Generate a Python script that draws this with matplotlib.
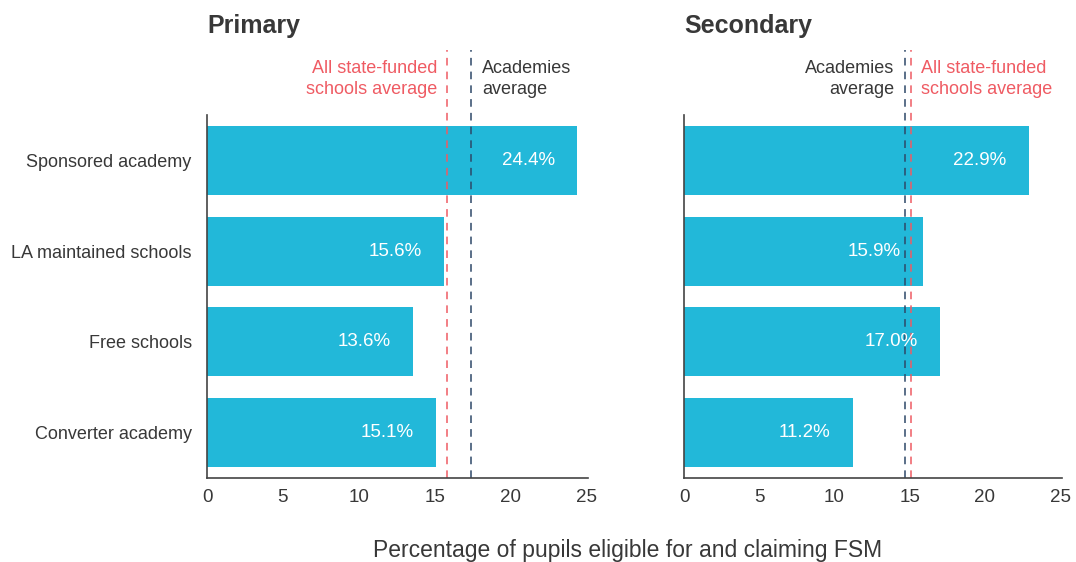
import matplotlib.pyplot as plt

plt.rcParams['font.family'] = ['Liberation Sans', 'DejaVu Sans']

categories = ['Sponsored academy', 'LA maintained schools', 'Free schools', 'Converter academy']
primary = [24.4, 15.6, 13.6, 15.1]
secondary = [22.9, 15.9, 17.0, 11.2]
primary_avg_all = 15.8
primary_avg_acad = 17.4
secondary_avg_all = 15.1
secondary_avg_acad = 14.7
xticks = [0, 5, 10, 15, 20, 25]

barColor = '#22B8D9'
redColor = '#EF5B63'
navyColor = '#2D4868'
textColor = '#383838'

fig = plt.figure(figsize=(10.76, 5.62), dpi=100)
axL = fig.add_axes([0.1924, 0.1495, 0.354, 0.6455])
axR = fig.add_axes([0.6357, 0.1495, 0.351, 0.6455])


def drawPanel(ax, vals, title, showLabels):
    pos = list(range(len(vals)))
    ax.barh(pos, vals, height=0.76, color=barColor)
    for p, v in zip(pos, vals):
        ax.annotate(f'{v:.1f}%', (v, p), xytext=(-16, 0), textcoords='offset points',
                    ha='right', va='center', color='white', fontsize=13.5)
    ax.set_ylim(3.5, -0.5)
    ax.set_xlim(0, 25.1)
    ax.set_xticks(xticks)
    ax.set_yticks(pos)
    if showLabels:
        ax.set_yticklabels(categories, fontsize=13, color=textColor)
    else:
        ax.set_yticklabels([])
    ax.tick_params(axis='both', length=0)
    ax.tick_params(axis='x', labelsize=13.5, labelcolor=textColor, pad=8)
    ax.tick_params(axis='y', pad=11)
    for s in ['top', 'right']:
        ax.spines[s].set_visible(False)
    for s in ['left', 'bottom']:
        ax.spines[s].set_color('#444444')
        ax.spines[s].set_linewidth(1.2)
    ax.text(0, 1.245, title, transform=ax.transAxes, fontsize=18, fontweight='bold',
            color=textColor, va='center', ha='left')


drawPanel(axL, primary, 'Primary', True)
drawPanel(axR, secondary, 'Secondary', False)

for ax, allAvg, acadAvg in [(axL, primary_avg_all, primary_avg_acad),
                            (axR, secondary_avg_all, secondary_avg_acad)]:
    ax.axvline(allAvg, ymin=0, ymax=1.18, color=redColor, ls=(0, (5, 4)), lw=1.1, clip_on=False)
    ax.axvline(acadAvg, ymin=0, ymax=1.18, color=navyColor, ls=(0, (5, 4)), lw=1.1, clip_on=False)

trL = axL.get_xaxis_transform()
axL.annotate('All state-funded\nschools average', (primary_avg_all, 1.1), xycoords=trL,
             xytext=(-7, 0), textcoords='offset points', ha='right', va='center',
             color=redColor, fontsize=13, linespacing=1.3)
axL.annotate('Academies\naverage', (primary_avg_acad, 1.1), xycoords=trL,
             xytext=(8, 0), textcoords='offset points', ha='left', va='center',
             color=textColor, fontsize=13, linespacing=1.3)

trR = axR.get_xaxis_transform()
axR.annotate('Academies\naverage', (secondary_avg_acad, 1.1), xycoords=trR,
             xytext=(-8, 0), textcoords='offset points', ha='right', va='center',
             color=textColor, fontsize=13, linespacing=1.3)
axR.annotate('All state-funded\nschools average', (secondary_avg_all, 1.1), xycoords=trR,
             xytext=(7, 0), textcoords='offset points', ha='left', va='center',
             color=redColor, fontsize=13, linespacing=1.3)

fig.text(0.583, 0.021, 'Percentage of pupils eligible for and claiming FSM',
         ha='center', va='center', fontsize=16.5, color=textColor)

fig.savefig('out.png', dpi=100)
